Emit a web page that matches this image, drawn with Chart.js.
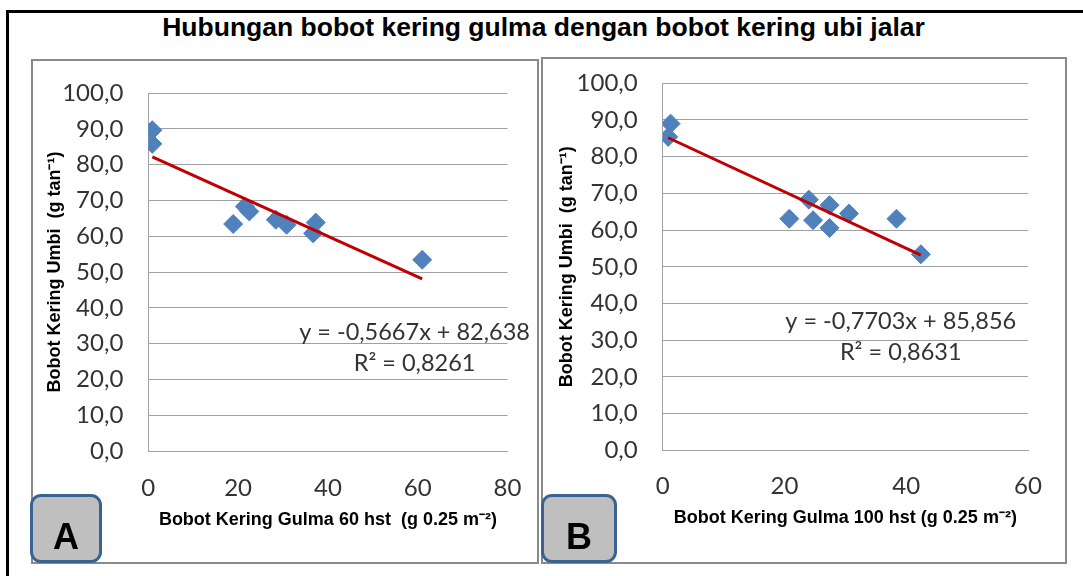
<!DOCTYPE html>
<html>
<head>
<meta charset="utf-8">
<script src="https://cdn.jsdelivr.net/npm/chart.js@4"></script>
<style>
  body { margin: 0; background: #fff; }
  #page { position: relative; width: 1083px; height: 576px; overflow: hidden; background: #fff; }
  .frame { position: absolute; left: 6px; top: 10px; width: 1200px; height: 700px;
           border-top: 3px solid #000; border-left: 3px solid #000; }
  .title { position: absolute; left: 0; top: 14px; width: 1087px; text-align: center;
           font: bold 26.5px "Liberation Sans", Arial, sans-serif; line-height: 26px; color: #000; }
  .chartbox { position: absolute; }
  .panel { position: absolute; box-sizing: border-box; border: 2px solid #8a8a8a; }
  .tag { position: absolute; box-sizing: border-box; border: 3.5px solid #3b6391; border-radius: 11px;
         background: #bfbfbf; }
  .tag span { position: absolute; left: 0; right: 0; top: 22px; text-align: center;
              font: bold 36px "Liberation Sans", Arial, sans-serif; line-height: 36px; color: #000; }
</style>
</head>
<body>
<div id="page">
  <div class="frame"></div>
  <div class="title">Hubungan bobot kering gulma dengan bobot kering ubi jalar</div>

  <div class="chartbox" style="left:32px;top:60px;width:506px;height:503px;"><canvas id="chartA"></canvas></div>
  <div class="chartbox" style="left:542px;top:58px;width:524px;height:505px;"><canvas id="chartB"></canvas></div>

  <div class="panel" style="left:31px;top:59px;width:508px;height:505px;"></div>
  <div class="panel" style="left:541px;top:57px;width:526px;height:507px;"></div>

  <div class="tag" style="left:30px;top:494px;width:72px;height:69px;"><span>A</span></div>
  <div class="tag" style="left:541px;top:494px;width:76px;height:69px;"><span>B</span></div>
</div>

<script>
// panel A: bobot kering gulma 60 hst vs bobot kering umbi
const gulma60 = [0.9, 0.9, 18.9, 21.5, 22.5, 28.4, 30.8, 36.7, 37.3, 61.0];
const umbiA   = [89.6, 85.8, 63.4, 68.3, 66.9, 64.6, 63.2, 60.8, 63.8, 53.4];
const trendA  = [-0.5667, 82.638];   // slope, intercept
const eqA     = ["y = -0,5667x + 82,638", "R\u00B2 = 0,8261"];

// panel B: bobot kering gulma 100 hst vs bobot kering umbi
const gulma100 = [1.3, 0.9, 20.8, 24.0, 24.7, 27.4, 27.4, 30.6, 38.4, 42.4];
const umbiB    = [89.0, 85.4, 63.1, 68.3, 62.7, 66.8, 60.6, 64.5, 63.1, 53.4];
const trendB   = [-0.7703, 85.856];
const eqB      = ["y = -0,7703x + 85,856", "R\u00B2 = 0,8631"];

// axes
const yRange = [0, 100], yStep = 10;
const xRangeA = [0, 80], xRangeB = [0, 60], xStep = 20;
const yTitle = "Bobot Kering Umbi  (g tan\u207B\u00B9)";
const xTitleA = "Bobot Kering Gulma 60 hst  (g 0.25 m\u207B\u00B2)";
const xTitleB = "Bobot Kering Gulma 100 hst (g 0.25 m\u207B\u00B2)";

const GRID = "#a0a0a0";
const TXT = "#333";
const TITLE_FONT = { family: "Liberation Sans", size: 18, weight: "bold" };
const TICK_FONT = { family: "Lato", size: 24 };

// trendline equation text, drawn at data positions
const eqPlugin = {
  id: "eqText",
  afterDatasetsDraw(chart, args, opts) {
    const { ctx, scales } = chart;
    ctx.save();
    ctx.font = "23.5px Lato";
    ctx.fillStyle = TXT;
    ctx.textAlign = "center";
    ctx.textBaseline = "middle";
    opts.lines.forEach(l => {
      ctx.fillText(l.text, scales.x.getPixelForValue(l.x), scales.y.getPixelForValue(l.y));
    });
    ctx.restore();
  }
};

// keep the plot area where the layout padding puts it
function noScalePadding(s) {
  s.paddingTop = 0; s.paddingBottom = 0; s.paddingLeft = 0; s.paddingRight = 0;
}

function makeChart(id, xs, ys, trend, eq, xRange, xTitle, lay) {
  const pts = xs.map((x, i) => ({ x: x, y: ys[i] }));
  const x0 = Math.min(...xs), x1 = Math.max(...xs);
  const line = [x0, x1].map(x => ({ x: x, y: trend[0] * x + trend[1] }));

  return new Chart(document.getElementById(id), {
    type: "scatter",
    data: {
      datasets: [
        {
          data: line,
          showLine: true,
          borderColor: "#c00000",
          borderWidth: 3,
          pointRadius: 0,
        },
        {
          data: pts,
          pointStyle: "rectRot",
          pointRadius: 9.5,
          backgroundColor: "#4f81bd",
          borderColor: "#4f81bd",
          borderWidth: 1,
        },
      ],
    },
    options: {
      responsive: true,
      maintainAspectRatio: false,
      animation: false,
      layout: { padding: { top: lay.top, right: lay.right, left: 0, bottom: 0 } },
      plugins: {
        legend: { display: false },
        tooltip: { enabled: false },
        eqText: { lines: [
          { text: eq[0], x: lay.eqX, y: lay.eqY1 },
          { text: eq[1], x: lay.eqX, y: lay.eqY2 },
        ] },
      },
      scales: {
        x: {
          type: "linear",
          min: xRange[0], max: xRange[1],
          ticks: { stepSize: xStep, padding: lay.xPad, color: TXT, font: TICK_FONT },
          grid: { display: false, drawTicks: false },
          border: { display: true, color: GRID, width: 1 },
          title: {
            display: true, text: xTitle, color: "#000", font: TITLE_FONT,
            padding: { top: 0, bottom: lay.xTitlePad },
          },
          afterFit: s => { s.height = lay.xH; noScalePadding(s); },
        },
        y: {
          min: yRange[0], max: yRange[1],
          ticks: {
            stepSize: yStep, padding: 25, color: TXT, font: TICK_FONT,
            callback: v => v.toFixed(1).replace(".", ","),
          },
          grid: { color: GRID, lineWidth: 1, drawTicks: false },
          border: { display: true, color: GRID, width: 1 },
          title: {
            display: true, text: yTitle, color: "#000", font: TITLE_FONT,
            padding: { top: lay.yTitlePad, bottom: 0 },
          },
          afterFit: s => { s.width = lay.yW; noScalePadding(s); },
        },
      },
    },
    plugins: [eqPlugin],
  });
}

Promise.all([
  document.fonts.load("24px Lato"),
  document.fonts.load("bold 18px 'Liberation Sans'"),
]).catch(() => {}).then(() => {
  makeChart("chartA", gulma60, umbiA, trendA, eqA, xRangeA, xTitleA, {
    top: 33, right: 30.5, yW: 116.3, xH: 112, xPad: 23, xTitlePad: 32.2, yTitlePad: 12.2,
    eqX: 59.3, eqY1: 33.0, eqY2: 24.5,
  });
  makeChart("chartB", gulma100, umbiB, trendB, eqB, xRangeB, xTitleB, {
    top: 25.3, right: 38, yW: 120.7, xH: 112.7, xPad: 22, xTitlePad: 33.9, yTitlePad: 14.2,
    eqX: 39.1, eqY1: 35.0, eqY2: 26.6,
  });
});
</script>
</body>
</html>
